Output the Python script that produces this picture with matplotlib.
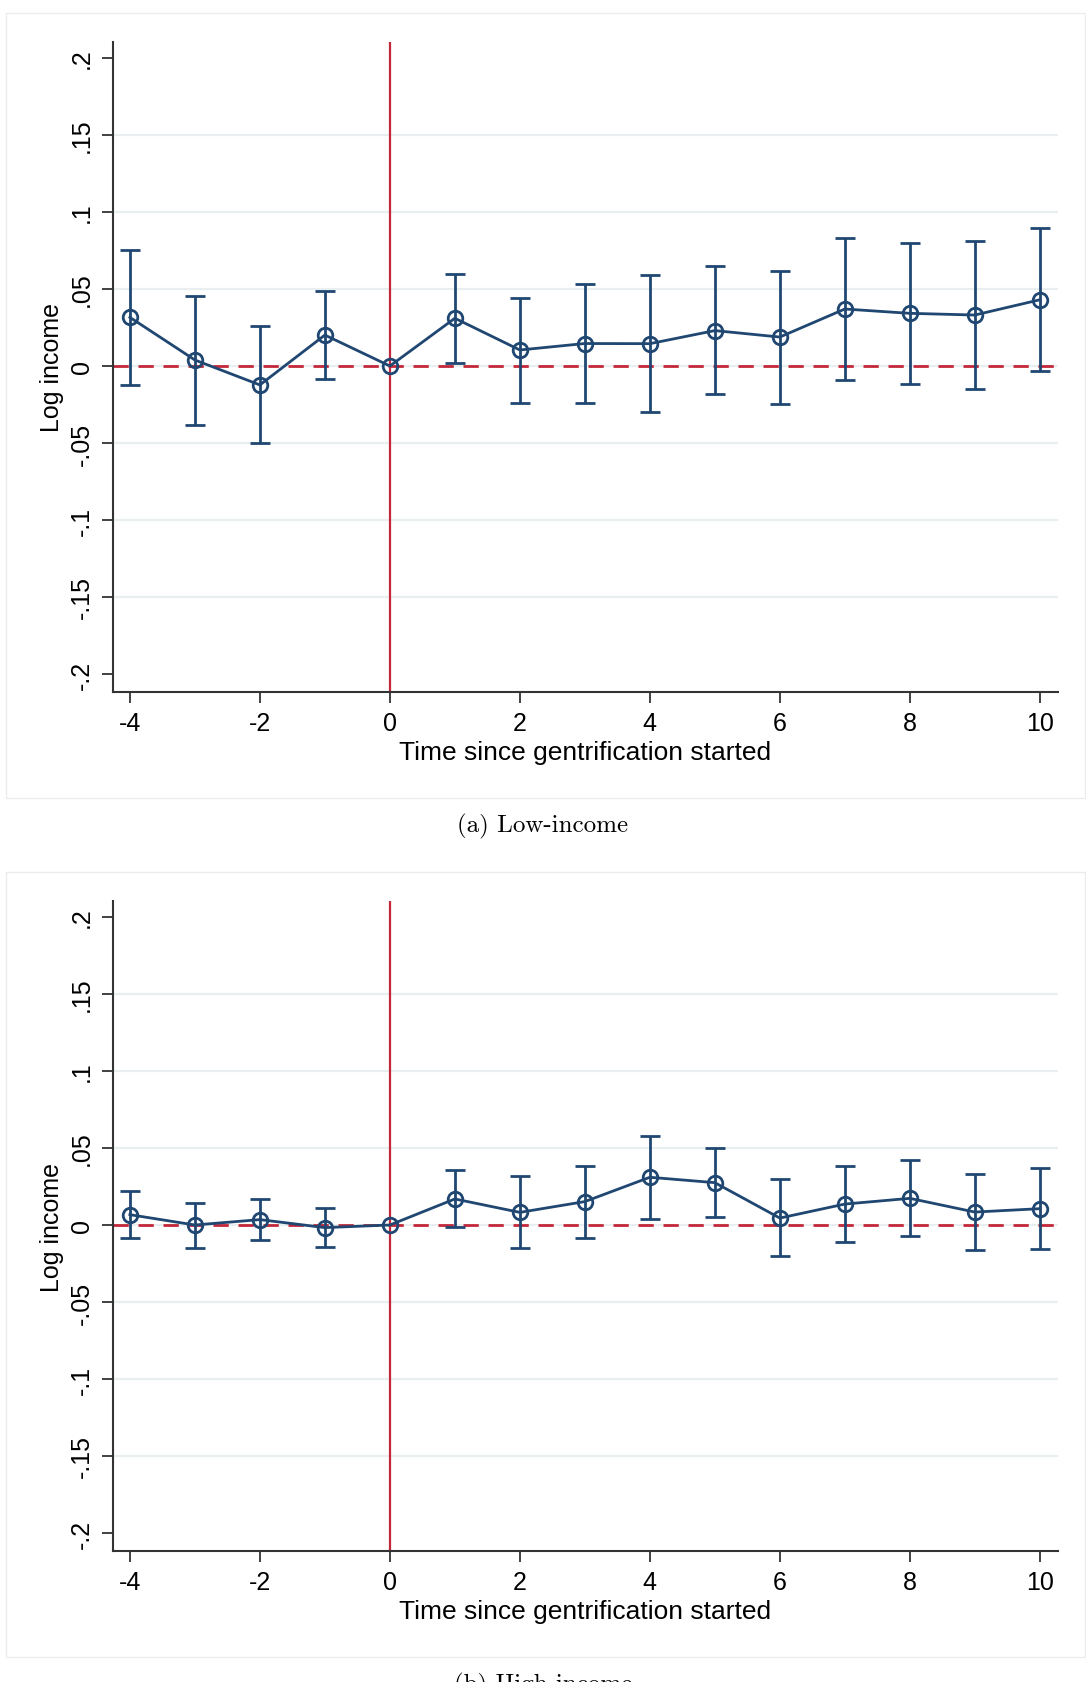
import numpy as np
import matplotlib
matplotlib.use('Agg')
from matplotlib import pyplot as plt
from matplotlib.patches import Rectangle

# event time
periods = [-4, -3, -2, -1, 0, 1, 2, 3, 4, 5, 6, 7, 8, 9, 10]

# (a) low-income
low_coef = [0.0316, 0.0039, -0.0123, 0.0201, 0.0, 0.031, 0.0104, 0.0146, 0.0145, 0.023, 0.0188, 0.037, 0.0342, 0.0331, 0.043]
low_upper = [0.0755, 0.0457, 0.0262, 0.049, 0.0, 0.060, 0.044, 0.053, 0.059, 0.065, 0.062, 0.0833, 0.0796, 0.0812, 0.0896]
low_lower = [-0.0123, -0.038, -0.050, -0.0087, 0.0, 0.002, -0.024, -0.024, -0.030, -0.018, -0.0247, -0.0091, -0.0115, -0.0147, -0.0032]

# (b) high-income
high_coef = [0.0067, 0.0, 0.0035, -0.0017, 0.0, 0.0169, 0.0082, 0.0152, 0.031, 0.0275, 0.0045, 0.0136, 0.0173, 0.0084, 0.0106]
high_upper = [0.0219, 0.0145, 0.0171, 0.0113, 0.0, 0.0357, 0.0316, 0.0385, 0.0578, 0.050, 0.0297, 0.0383, 0.0424, 0.0333, 0.0372]
high_lower = [-0.0084, -0.0149, -0.0100, -0.0145, 0.0, -0.0011, -0.0152, -0.0082, 0.0041, 0.0052, -0.020, -0.0108, -0.0071, -0.016, -0.0153]

ytick_vals = [-0.2, -0.15, -0.1, -0.05, 0, 0.05, 0.1, 0.15, 0.2]
ytick_labels = ['-.2', '-.15', '-.1', '-.05', '0', '.05', '.1', '.15', '.2']
xtick_vals = [-4, -2, 0, 2, 4, 6, 8, 10]
xtick_labels = ['-4', '-2', '0', '2', '4', '6', '8', '10']
captions = ['(a) Low-income', '(b) High-income']

navy = '#1f4772'
red = '#c3283a'
grid_col = '#e9eff1'
W, H = 1086, 1683

plt.rcParams['font.family'] = ['Liberation Sans', 'DejaVu Sans']
plt.rcParams['axes.unicode_minus'] = False

fig = plt.figure(figsize=(W / 100, H / 100), dpi=100)


def draw_panel(offset, coef, lower, upper, caption):
    # grey frame around the graph region
    fig.patches.append(Rectangle((6 / W, 1 - (799 + offset) / H), (1085 - 6) / W, (799 - 14) / H,
                                 transform=fig.transFigure, fill=False, edgecolor='#ececec', lw=1.0))
    ax = fig.add_axes([113 / W, 1 - (693 + offset) / H, (1058 - 113) / W, 650 / H])
    ax.set_xlim(-4.26, 10.28)
    ax.set_ylim(-0.2117, 0.2104)

    for y in ytick_vals[1:-1]:
        ax.axhline(y, color=grid_col, lw=1.6, zorder=0)
    ax.axhline(0, color=red, lw=2.0, dashes=(5.5, 3.5), zorder=1)
    ax.axvline(0, color=red, lw=1.6, zorder=1)

    x = np.array(periods)
    c = np.array(coef)
    lo = np.array(lower)
    hi = np.array(upper)
    has_ci = hi != lo
    ax.errorbar(x[has_ci], c[has_ci], yerr=[c[has_ci] - lo[has_ci], hi[has_ci] - c[has_ci]],
                fmt='none', ecolor=navy, elinewidth=2.0, capsize=7, capthick=2.0, zorder=2)
    ax.plot(x, c, color=navy, lw=2.0, marker='o', markersize=10.5, markerfacecolor='none',
            markeredgecolor=navy, markeredgewidth=2.0, zorder=3)

    for s in ['top', 'right']:
        ax.spines[s].set_visible(False)
    for s in ['left', 'bottom']:
        ax.spines[s].set_color('#333333')
        ax.spines[s].set_linewidth(1.5)

    ax.set_yticks(ytick_vals)
    ax.set_yticklabels(ytick_labels, rotation=90, va='center')
    ax.set_xticks(xtick_vals)
    ax.set_xticklabels(xtick_labels)
    ax.tick_params(axis='both', direction='out', length=8, width=1.3, color='#333333', labelsize=18, pad=6)
    ax.set_xlabel('Time since gentrification started', fontsize=19, labelpad=3)
    ax.set_ylabel('Log income', fontsize=18, labelpad=4)

    fig.text(0.5, 1 - (826 + offset) / H, caption, ha='center', va='center',
             fontsize=18, family=['cmr10', 'DejaVu Serif'])
    return ax


draw_panel(0, low_coef, low_lower, low_upper, captions[0])
draw_panel(859, high_coef, high_lower, high_upper, captions[1])

fig.savefig('out.png', dpi=100, facecolor='white')
